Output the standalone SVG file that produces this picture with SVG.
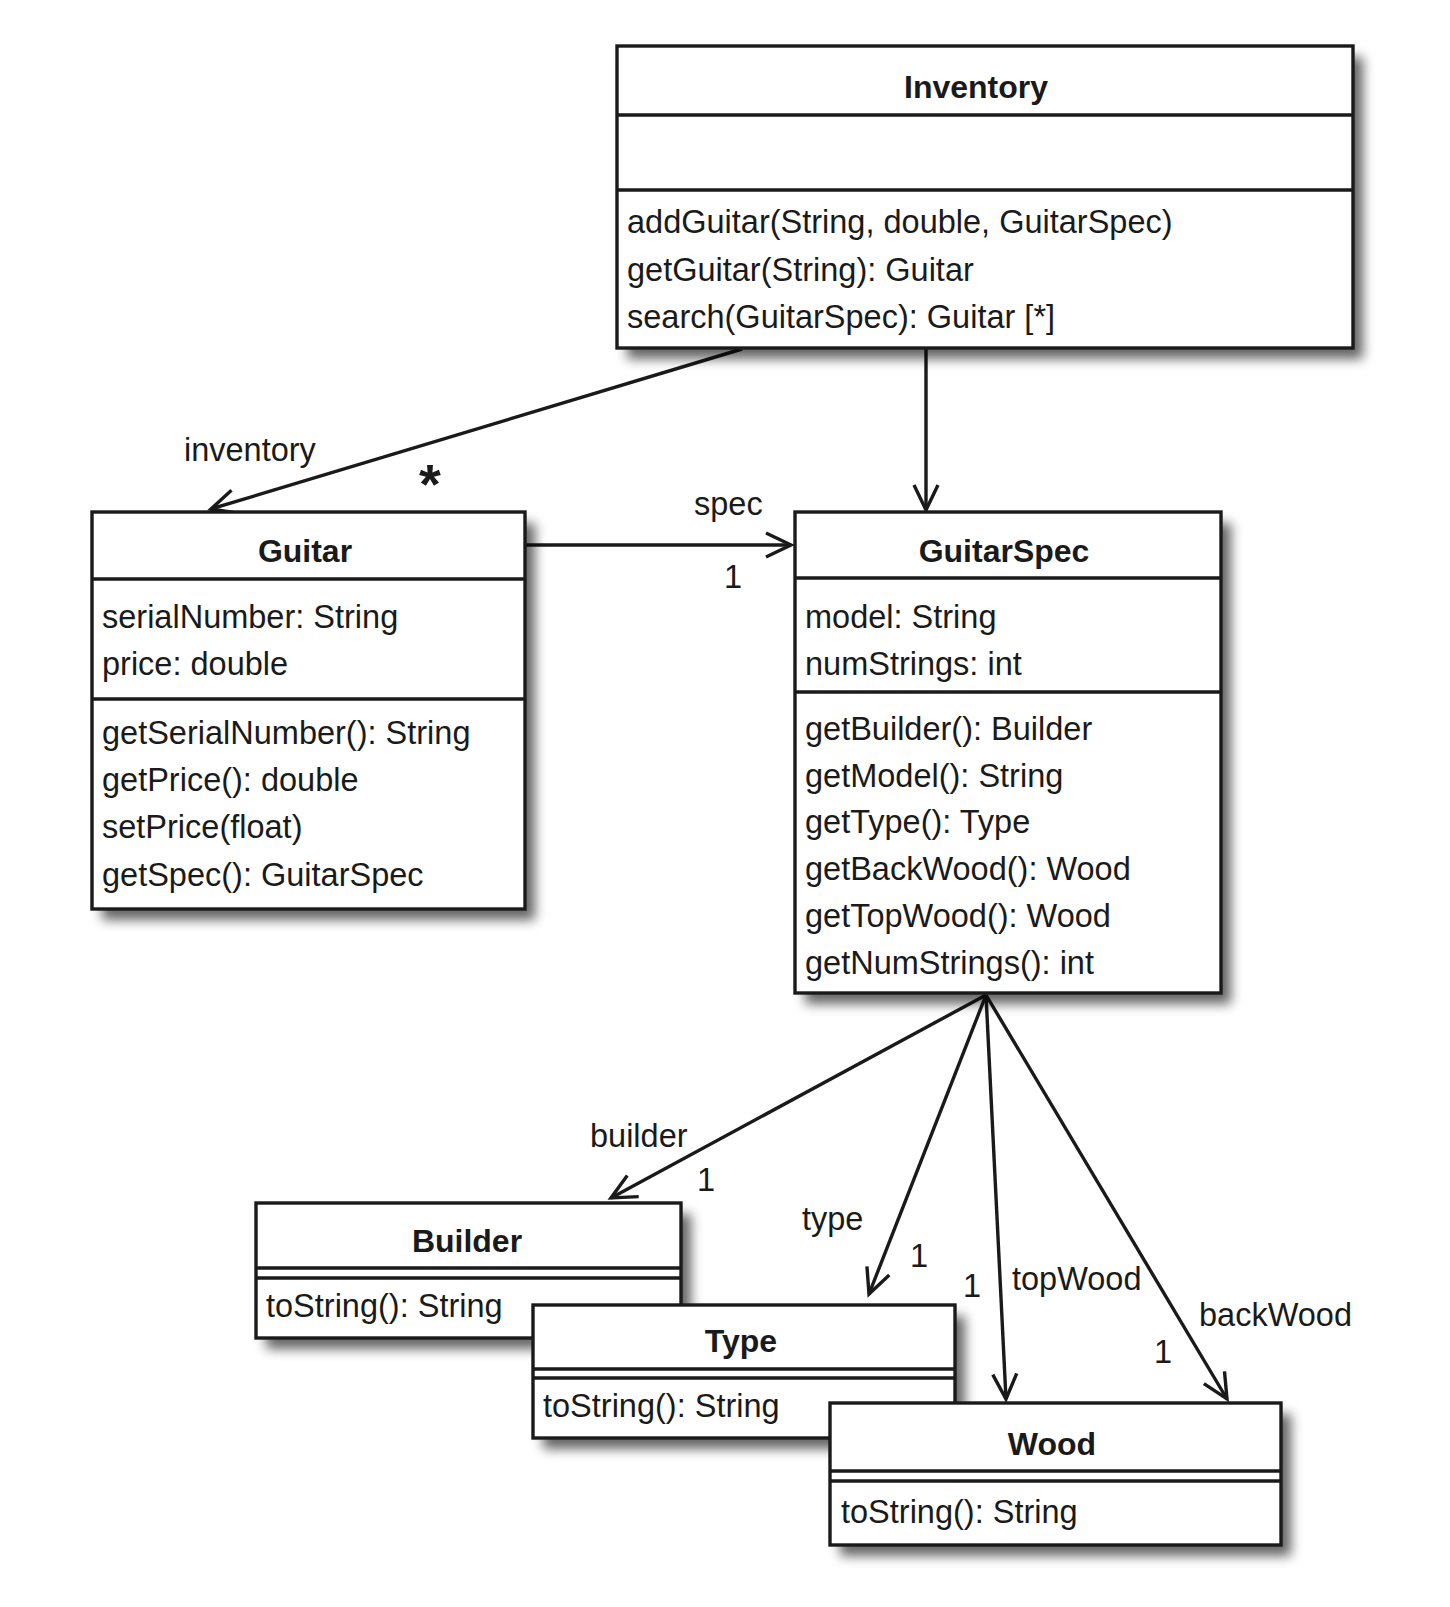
<svg xmlns="http://www.w3.org/2000/svg" width="1450" height="1607" viewBox="0 0 1450 1607">
<style>
  text { font-family: "Liberation Sans", Arial, sans-serif; fill: #1a1a1a; }
  .t { font-size: 32.5px; }
  .h { font-size: 32px; font-weight: bold; text-anchor: middle; }
  .box { fill: #ffffff; stroke: #1a1a1a; stroke-width: 3.4; }
  .div { stroke: #1a1a1a; stroke-width: 3.4; }
  .shadow { fill: #000; opacity: 0.6; filter: url(#sh); }
  .conn { fill: none; stroke: #1a1a1a; stroke-width: 3.4; marker-end: url(#arr); }
  .lbl { font-size: 32.5px; }
</style>
<defs>
  <filter id="sh" x="-10%" y="-10%" width="125%" height="125%">
    <feGaussianBlur stdDeviation="6"/>
  </filter>
  <marker id="arr" viewBox="-30 -16 34 32" refX="0" refY="0" markerWidth="34" markerHeight="32" markerUnits="userSpaceOnUse" orient="auto">
    <path d="M-25,-12 L0,0 L-25,12" fill="none" stroke="#1a1a1a" stroke-width="3.4"/>
  </marker>
</defs>
<rect width="1450" height="1607" fill="#ffffff"/>

<g id="connectors">
  <path class="conn" d="M742,349 L211,509"/>
  <path class="conn" d="M926,349 L926,510"/>
  <path class="conn" d="M526,545 L791,545"/>
  <path class="conn" d="M986,995 L611,1198"/>
  <path class="conn" d="M986,995 L869,1294"/>
  <path class="conn" d="M986,995 L1006,1399"/>
  <path class="conn" d="M986,995 L1227,1399"/>
  <text class="lbl" x="184" y="461">inventory</text>
  <text x="430" y="503" font-size="56" font-weight="bold" text-anchor="middle">*</text>
  <text class="lbl" x="694" y="515">spec</text>
  <text class="lbl" x="733" y="588" text-anchor="middle">1</text>
  <text class="lbl" x="590" y="1147">builder</text>
  <text class="lbl" x="706" y="1191" text-anchor="middle">1</text>
  <text class="lbl" x="802" y="1230">type</text>
  <text class="lbl" x="919" y="1267" text-anchor="middle">1</text>
  <text class="lbl" x="972" y="1297" text-anchor="middle">1</text>
  <text class="lbl" x="1012" y="1290">topWood</text>
  <text class="lbl" x="1199" y="1326">backWood</text>
  <text class="lbl" x="1163" y="1363" text-anchor="middle">1</text>
</g>

<g id="Inventory">
  <rect class="shadow" x="627" y="57" width="736" height="302"/>
  <rect class="box" x="617" y="46" width="736" height="302"/>
  <line class="div" x1="617" y1="115" x2="1353" y2="115"/>
  <line class="div" x1="617" y1="190" x2="1353" y2="190"/>
  <text class="h" x="976" y="98">Inventory</text>
  <text class="t" x="627" y="233">addGuitar(String, double, GuitarSpec)</text>
  <text class="t" x="627" y="281">getGuitar(String): Guitar</text>
  <text class="t" x="627" y="328">search(GuitarSpec): Guitar [*]</text>
</g>

<g id="Guitar">
  <rect class="shadow" x="102" y="523" width="433" height="397"/>
  <rect class="box" x="92" y="512" width="433" height="397"/>
  <line class="div" x1="92" y1="579" x2="525" y2="579"/>
  <line class="div" x1="92" y1="699" x2="525" y2="699"/>
  <text class="h" x="305" y="562">Guitar</text>
  <text class="t" x="102" y="628">serialNumber: String</text>
  <text class="t" x="102" y="675">price: double</text>
  <text class="t" x="102" y="744">getSerialNumber(): String</text>
  <text class="t" x="102" y="791">getPrice(): double</text>
  <text class="t" x="102" y="838">setPrice(float)</text>
  <text class="t" x="102" y="886">getSpec(): GuitarSpec</text>
</g>

<g id="GuitarSpec">
  <rect class="shadow" x="805" y="523" width="426" height="481"/>
  <rect class="box" x="795" y="512" width="426" height="481"/>
  <line class="div" x1="795" y1="578" x2="1221" y2="578"/>
  <line class="div" x1="795" y1="692" x2="1221" y2="692"/>
  <text class="h" x="1004" y="562">GuitarSpec</text>
  <text class="t" x="805" y="628">model: String</text>
  <text class="t" x="805" y="675">numStrings: int</text>
  <text class="t" x="805" y="740">getBuilder(): Builder</text>
  <text class="t" x="805" y="787">getModel(): String</text>
  <text class="t" x="805" y="833">getType(): Type</text>
  <text class="t" x="805" y="880">getBackWood(): Wood</text>
  <text class="t" x="805" y="927">getTopWood(): Wood</text>
  <text class="t" x="805" y="974">getNumStrings(): int</text>
</g>

<g id="Builder">
  <rect class="shadow" x="266" y="1214" width="425" height="135"/>
  <rect class="box" x="256" y="1203" width="425" height="135"/>
  <line class="div" x1="256" y1="1268" x2="681" y2="1268"/>
  <line class="div" x1="256" y1="1278" x2="681" y2="1278"/>
  <text class="h" x="467" y="1252">Builder</text>
  <text class="t" x="266" y="1317">toString(): String</text>
</g>

<g id="Type">
  <rect class="shadow" x="543" y="1316" width="422" height="133"/>
  <rect class="box" x="533" y="1305" width="422" height="133"/>
  <line class="div" x1="533" y1="1369" x2="955" y2="1369"/>
  <line class="div" x1="533" y1="1378" x2="955" y2="1378"/>
  <text class="h" x="741" y="1352">Type</text>
  <text class="t" x="543" y="1417">toString(): String</text>
</g>

<g id="Wood">
  <rect class="shadow" x="840" y="1414" width="451" height="142"/>
  <rect class="box" x="830" y="1403" width="451" height="142"/>
  <line class="div" x1="830" y1="1471" x2="1281" y2="1471"/>
  <line class="div" x1="830" y1="1481" x2="1281" y2="1481"/>
  <text class="h" x="1052" y="1455">Wood</text>
  <text class="t" x="841" y="1523">toString(): String</text>
</g>
</svg>
